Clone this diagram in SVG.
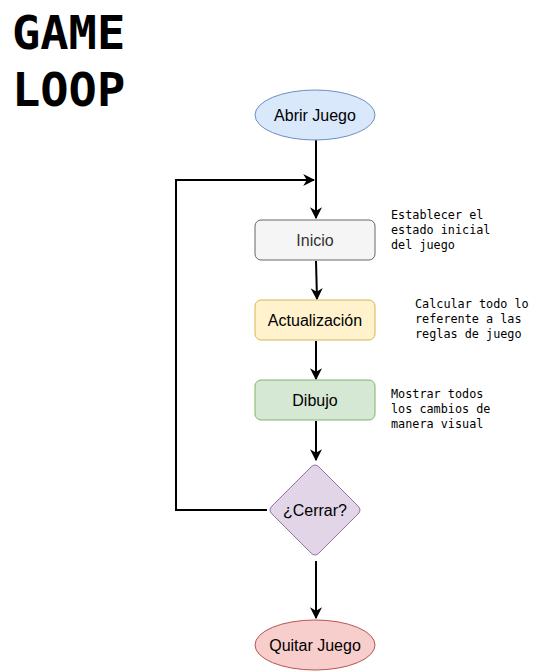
<svg xmlns="http://www.w3.org/2000/svg" width="536" height="671" viewBox="0 0 536 671">
<defs>
<marker id="arr" viewBox="0 0 10 10" refX="9" refY="5" markerWidth="6" markerHeight="6" orient="auto" markerUnits="strokeWidth">
<path d="M0,0 L10,5 L0,10 L3,5 Z" fill="#000"/>
</marker>
</defs>
<style>
.lbl{font-family:"Liberation Sans",Arial,sans-serif;font-size:16px;text-anchor:middle;dominant-baseline:central;fill:#000}
.note{font-family:"DejaVu Sans Mono","Liberation Mono",monospace;font-size:11.8px;fill:#000}
.title{font-family:"DejaVu Sans Mono","Liberation Mono",monospace;font-weight:bold;font-size:47px;fill:#000}
.edge{fill:none;stroke:#000;stroke-width:2}
</style>
<rect width="536" height="671" fill="#fff"/>
<g id="title">
<text class="title" x="12" y="49">GAME</text>
<text class="title" x="12" y="106">LOOP</text>
</g>
<g id="connectors">
<path class="edge" d="M316,140 L316,218" marker-end="url(#arr)"/>
<path class="edge" d="M267,510 L176,510 L176,180 L314,180" marker-end="url(#arr)"/>
<path class="edge" d="M316,261 L317,299" marker-end="url(#arr)"/>
<path class="edge" d="M316,341 L316,379" marker-end="url(#arr)"/>
<path class="edge" d="M316,421 L316,460" marker-end="url(#arr)"/>
<path class="edge" d="M316,561 L316,618" marker-end="url(#arr)"/>
</g>
<g id="abrir">
<ellipse cx="315" cy="115" rx="60" ry="25" fill="#dae8fc" stroke="#6c8ebf"/>
<text class="lbl" x="315" y="115">Abrir Juego</text>
</g>
<g id="inicio">
<rect x="255" y="220" width="120" height="40" rx="6" fill="#f5f5f5" stroke="#666666"/>
<text class="lbl" x="315" y="240" style="fill:#333">Inicio</text>
</g>
<g id="actualizacion">
<rect x="255" y="300" width="120" height="40" rx="6" fill="#fff2cc" stroke="#d6b656"/>
<text class="lbl" x="315" y="320">Actualización</text>
</g>
<g id="dibujo">
<rect x="255" y="380" width="120" height="40" rx="6" fill="#d5e8d4" stroke="#82b366"/>
<text class="lbl" x="315" y="400">Dibujo</text>
</g>
<g id="cerrar">
<path d="M311,467 Q315,463 319,467 L358,506 Q362,510 358,514 L319,553 Q315,557 311,553 L272,514 Q268,510 272,506 Z" fill="#e1d5e7" stroke="#9673a6"/>
<text class="lbl" x="315" y="510">¿Cerrar?</text>
</g>
<g id="quitar">
<ellipse cx="315" cy="645" rx="60" ry="25" fill="#f8cecc" stroke="#b85450"/>
<text class="lbl" x="315" y="645">Quitar Juego</text>
</g>
<g id="notes">
<text class="note" x="391" y="219">Establecer el</text>
<text class="note" x="391" y="234">estado inicial</text>
<text class="note" x="391" y="249">del juego</text>
<text class="note" x="415" y="308">Calcular todo lo</text>
<text class="note" x="415" y="323">referente a las</text>
<text class="note" x="415" y="338">reglas de juego</text>
<text class="note" x="391" y="398">Mostrar todos</text>
<text class="note" x="391" y="413">los cambios de</text>
<text class="note" x="391" y="428">manera visual</text>
</g>
</svg>
